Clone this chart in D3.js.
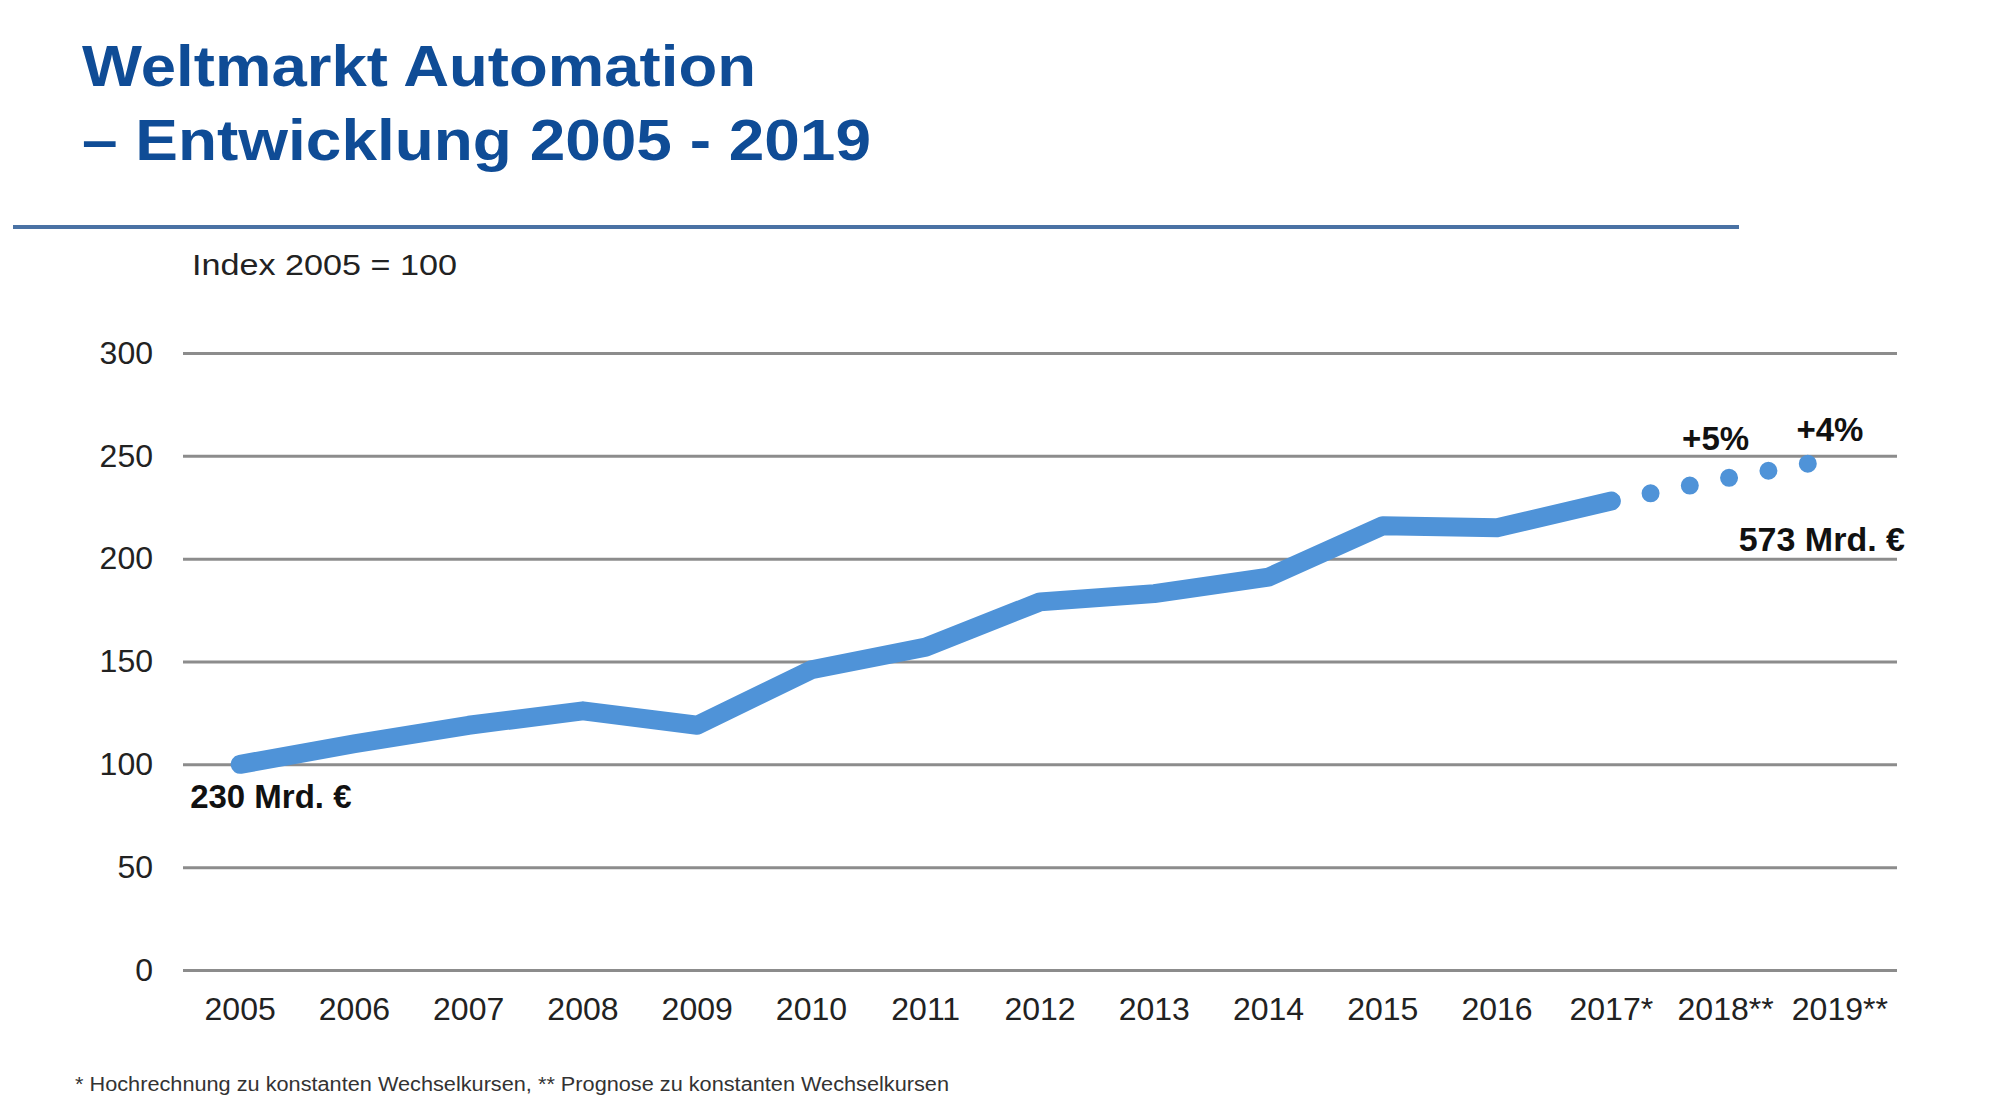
<!DOCTYPE html>
<html lang="de">
<head>
<meta charset="utf-8">
<title>Weltmarkt Automation</title>
<script src="https://cdn.jsdelivr.net/npm/d3@7"></script>
<style>
    body { margin: 0; background: #fff; }
    text { font-family: "Liberation Sans", Arial, sans-serif; }
</style>
</head>
<body>
<div id="chart"></div>
<script>
// Daten (Index 2005 = 100)
const years = ["2005", "2006", "2007", "2008", "2009", "2010", "2011", "2012", "2013", "2014", "2015", "2016", "2017*", "2018**", "2019**"];
const actualYears = ["2005", "2006", "2007", "2008", "2009", "2010", "2011", "2012", "2013", "2014", "2015", "2016", "2017*"];
const actualValues = [100, 110, 119, 126, 119, 146, 157, 179, 183, 191, 216, 215, 228];
const forecastYears = ["2017*", "2018**", "2019**"];
const forecastValues = [228, 239, 249];
const yTicks = [0, 50, 100, 150, 200, 250, 300];
const growthLabels = [{ year: "2018**", text: "+5%", value: 239 }, { year: "2019**", text: "+4%", value: 249 }];

(() => {
    const width = 2000, height = 1102;
    const margin = { top: 353, right: 103, bottom: 132, left: 183 };
    const innerW = width - margin.left - margin.right;
    const innerH = height - margin.top - margin.bottom;
    const lineColor = "#4f93d8";

    const svg = d3.select("#chart")
        .append("svg")
        .attr("width", width)
        .attr("height", height);

    // Titel
    const title = svg.append("g").attr("fill", "#0f4c96").style("font-weight", "bold").style("font-size", "58px");
    title.append("text").attr("x", 82).attr("y", 86)
        .attr("textLength", 674).attr("lengthAdjust", "spacingAndGlyphs")
        .text("Weltmarkt Automation");
    title.append("text").attr("x", 82).attr("y", 160)
        .attr("textLength", 789).attr("lengthAdjust", "spacingAndGlyphs")
        .text("\u2013 Entwicklung 2005 - 2019");

    svg.append("line")
        .attr("x1", 13).attr("x2", 1739)
        .attr("y1", 227).attr("y2", 227)
        .attr("stroke", "#4a72a4")
        .attr("stroke-width", 4);

    svg.append("text")
        .attr("x", 192).attr("y", 275)
        .attr("textLength", 265).attr("lengthAdjust", "spacingAndGlyphs")
        .style("font-size", "29px")
        .attr("fill", "#222")
        .text("Index 2005 = 100");

    const chart = svg.append("g")
        .attr("transform", `translate(${margin.left},${margin.top})`);

    const x = d3.scaleBand()
        .domain(years)
        .range([0, innerW]);

    const y = d3.scaleLinear()
        .domain([0, 300])
        .range([innerH, 0]);

    const cx = d => x(d) + x.bandwidth() / 2;

    // Y-Achse mit Gitternetz
    const yAxis = chart.append("g")
        .call(d3.axisLeft(y).tickValues(yTicks).tickSizeInner(-innerW).tickSizeOuter(0).tickPadding(30));
    yAxis.select(".domain").remove();
    yAxis.selectAll(".tick line").attr("stroke", "#8c8c8c").attr("stroke-width", 3);
    yAxis.selectAll(".tick text").attr("fill", "#222").style("font-size", "32px").style("font-family", "'Liberation Sans', Arial, sans-serif");

    // X-Achse
    const xAxis = chart.append("g")
        .attr("transform", `translate(0,${innerH})`)
        .call(d3.axisBottom(x).tickSize(0).tickPadding(27));
    xAxis.select(".domain").remove();
    xAxis.selectAll(".tick text").attr("fill", "#222").style("font-size", "32px").style("font-family", "'Liberation Sans', Arial, sans-serif");

    const line = d3.line()
        .x(d => cx(d[0]))
        .y(d => y(d[1]));

    // Prognose (gepunktet)
    chart.append("path")
        .datum(d3.zip(forecastYears, forecastValues))
        .attr("d", line)
        .attr("fill", "none")
        .attr("stroke", lineColor)
        .attr("stroke-width", 18)
        .attr("stroke-linecap", "round")
        .attr("stroke-dasharray", "0 40");

    // Ist-Werte
    chart.append("path")
        .datum(d3.zip(actualYears, actualValues))
        .attr("d", line)
        .attr("fill", "none")
        .attr("stroke", lineColor)
        .attr("stroke-width", 19)
        .attr("stroke-linecap", "round")
        .attr("stroke-linejoin", "round");

    // Beschriftungen
    const labels = chart.append("g").attr("fill", "#111").style("font-weight", "bold").style("font-size", "33px");

    labels.selectAll(".growth")
        .data(growthLabels)
        .enter()
        .append("text")
        .attr("class", "growth")
        .attr("x", d => cx(d.year) - 10)
        .attr("y", (d, i) => y(d.value) - (i === 0 ? 28 : 17))
        .attr("text-anchor", "middle")
        .text(d => d.text);

    labels.append("text")
        .attr("x", cx(years[0]) - 50)
        .attr("y", y(actualValues[0]) + 44)
        .text("230 Mrd. \u20ac");

    labels.append("text")
        .attr("x", x.range()[1] + 8)
        .attr("y", y(forecastValues[2]) + 93)
        .attr("text-anchor", "end")
        .style("font-size", "34px")
        .text("573 Mrd. \u20ac");

    svg.append("text")
        .attr("x", 75).attr("y", 1091)
        .attr("textLength", 874).attr("lengthAdjust", "spacingAndGlyphs")
        .style("font-size", "20px")
        .attr("fill", "#333")
        .text("* Hochrechnung zu konstanten Wechselkursen, ** Prognose zu konstanten Wechselkursen");
})();
</script>
</body>
</html>
